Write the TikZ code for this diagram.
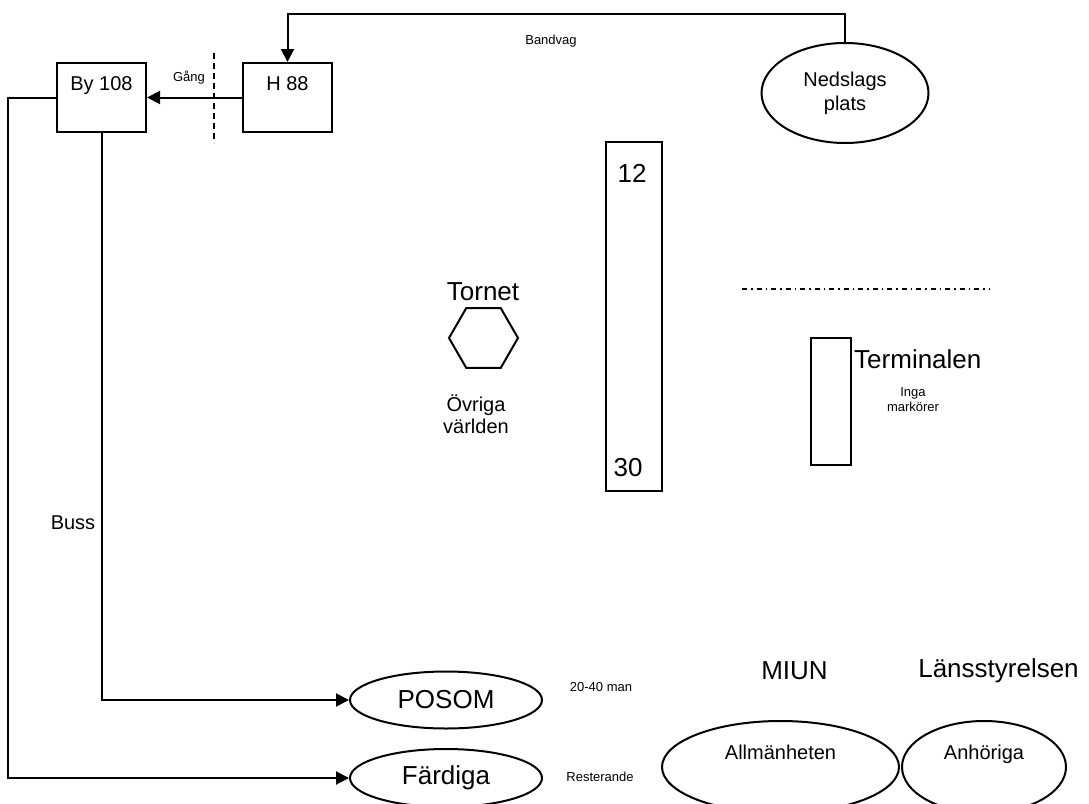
\documentclass[tikz,border=0pt]{standalone}
\usepackage{fontspec}
\setmainfont{Liberation Sans}
\usetikzlibrary{positioning, arrows.meta, shapes.geometric}

\begin{document}
\begin{tikzpicture}[
    x=1pt, y=-1pt,
    box/.style={draw, rectangle, line width=2pt, minimum width=89pt, minimum height=69pt, inner sep=0pt, text height=27pt, text depth=42pt, font=\fontsize{20}{24}\selectfont},
    oval/.style={draw, ellipse, line width=2pt, inner sep=0pt},
    bar/.style={draw, rectangle, line width=2pt, inner sep=0pt},
    big/.style={font=\fontsize{26}{30}\selectfont},
    mid/.style={font=\fontsize{20}{22}\selectfont, align=center},
    small/.style={font=\fontsize{13}{15}\selectfont, align=center},
    link/.style={line width=2pt},
    arr/.style={link, -{Triangle[length=13pt, width=13pt]}}
]
\clip (0,0) rectangle (1089,803);

% Units
\node[box] (by) at (101.5,97.5) {By 108};
\node[box] (h88) at (287.5,97.5) {H 88};
\node[oval, minimum width=167pt, minimum height=100pt, font=\fontsize{20}{24}\selectfont, align=center] (neds) at (845,93) {Nedslags\\plats};

% Runway and tower
\node[bar, minimum width=56pt, minimum height=349pt] (bana) at (634,316.5) {};
\node[big] (b12) at (632,173) {12};
\node[big] (b30) at (628,468) {30};
\node[draw, regular polygon, regular polygon sides=6, minimum size=69pt, inner sep=0pt, line width=2pt] (torn) at (483.5,338) {};
\node[big] (tornlbl) at (483,292) {Tornet};
\node[mid] (ovriga) at (476,414) {Övriga\\världen};

% Terminal
\draw[line width=1.5pt, dash pattern=on 5pt off 4pt on 1.5pt off 4pt] (742,289) -- (990,289);
\node[bar, minimum width=40pt, minimum height=127pt] (term) at (831,401.5) {};
\node[big, anchor=west, inner sep=0pt] (termlbl) at (854,359) {Terminalen};
\node[small] (inga) at (913,400) {Inga\\markörer};

% Groups
\node[oval, minimum width=192pt, minimum height=57pt, big] (posom) at (446,700) {POSOM};
\node[oval, minimum width=192pt, minimum height=58pt, big] (fard) at (446,778) {Färdiga};
\node[small] (antal) at (601,687) {20-40 man};
\node[small] (rest) at (600,777) {Resterande};
\node[big] (miun) at (794.5,671) {MIUN};
\node[big] (lans) at (998.5,671) {Länsstyrelsen};
\node[oval, minimum width=237pt, minimum height=92pt, font=\fontsize{20}{24}\selectfont, text height=14pt, text depth=30pt] (allm) at (780.5,767) {Allmänheten};
\node[oval, minimum width=164pt, minimum height=92pt, font=\fontsize{20}{24}\selectfont, text height=14pt, text depth=30pt] (anh) at (984,767) {Anhöriga};

% Transport
\draw[link, dash pattern=on 6pt off 4pt] (214,53) -- (214,143);
\node[small] (gang) at (189,78) {Gång};
\draw[arr] (h88.west) -- (by.east);
\draw[arr] (neds.north) -- ++(0,-28) -| (h88.north);
\node[small] (bandvag) at (551,41) {Bandvag};
\draw[arr] (by.west) -- ++(-48,0) |- (fard.west);
\draw[arr] (by.south) |- (posom.west);
\node[mid] (buss) at (73,523) {Buss};
\end{tikzpicture}
\end{document}
